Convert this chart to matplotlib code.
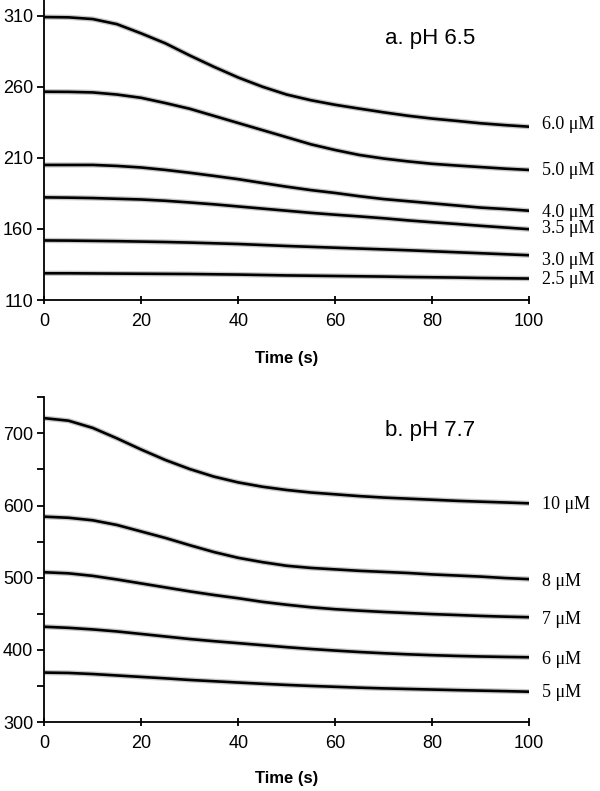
import matplotlib
matplotlib.use("Agg")
import matplotlib.pyplot as plt
from matplotlib.ticker import MultipleLocator

# time grid shared by every trace (s)
time_s = [0, 5, 10, 15, 20, 25, 30, 35, 40, 45, 50,
          55, 60, 65, 70, 75, 80, 85, 90, 95, 100]

# panel a, pH 6.5
a_labels = ["6.0 μM", "5.0 μM", "4.0 μM", "3.5 μM", "3.0 μM", "2.5 μM"]
a_6_0 = [309, 308.8, 307.6, 304, 297.5, 290.5, 282, 274, 266.5, 260, 254.5,
         250.5, 247.3, 244.6, 242, 239.6, 237.6, 236, 234.3, 233, 231.9]
a_5_0 = [256.5, 256.4, 256, 254.5, 252.2, 248.5, 244.5, 239.5, 234.5, 229.5, 224.5,
         219.5, 215.5, 212, 209.5, 207.5, 205.8, 204.6, 203.5, 202.4, 201.5]
a_4_0 = [205, 205, 205, 204.3, 203.2, 201.5, 199.5, 197.3, 195, 192.3, 189.7,
         187.3, 185.3, 183, 181, 179.5, 178, 176.5, 175, 174, 172.8]
a_3_5 = [182.2, 182, 181.7, 181.2, 180.7, 179.8, 178.6, 177.3, 175.8, 174.3, 172.8,
         171.3, 170, 168.8, 167.5, 166, 164.7, 163.5, 162.2, 161, 159.8]
a_3_0 = [151.9, 151.8, 151.6, 151.4, 151.1, 150.8, 150.4, 149.9, 149.4, 148.7, 148,
         147.4, 146.8, 146.2, 145.6, 145, 144.3, 143.6, 142.9, 142.2, 141.5]
a_2_5 = [128.8, 128.8, 128.7, 128.6, 128.5, 128.4, 128.3, 128.1, 127.9, 127.6, 127.3,
         127.1, 126.9, 126.7, 126.5, 126.2, 126, 125.8, 125.5, 125.3, 125.1]
a_label_y = [233.1, 200.9, 171.4, 160.4, 138.1, 124.1]

# panel b, pH 7.7
b_labels = ["10 μM", "8 μM", "7 μM", "6 μM", "5 μM"]
b_10 = [721, 717.5, 707.5, 693, 677.5, 663, 650.5, 640, 632, 626, 621.5,
        618, 615.5, 613, 611, 609.5, 608, 606.5, 605.3, 604.2, 603]
b_8 = [584.5, 583, 579.5, 573, 564, 555, 545, 535.5, 527.5, 521.5, 516.5,
       513.5, 511.5, 509.5, 508, 506.5, 504.5, 503, 501.5, 499.5, 498]
b_7 = [507.5, 506, 502.5, 497.5, 492, 486.5, 481, 476, 471.5, 466.5, 462.5,
       459, 456.3, 454.3, 452.5, 451, 449.5, 448.3, 447, 446, 445.2]
b_6 = [432, 430.5, 428.3, 425.5, 422, 418.5, 415, 412, 409.3, 406.5, 403.7,
       401.2, 399, 397, 395.3, 393.8, 392.6, 391.6, 390.8, 390.2, 389.7]
b_5 = [368.5, 368, 366.5, 364.5, 362.5, 360.5, 358.3, 356.5, 354.7, 353, 351.4,
       350, 348.8, 347.6, 346.6, 345.8, 345, 344.2, 343.5, 342.8, 342]
b_label_y = [600.7, 494.5, 441.4, 386, 340.3]

plt.rcParams['font.family'] = 'Liberation Sans'

fig = plt.figure(figsize=(6, 7.91), dpi=100)
ax_a = fig.add_axes([0.0738, 0.6207, 0.808, 0.3793])
ax_b = fig.add_axes([0.0738, 0.0872, 0.808, 0.4106])


def draw_panel(ax, series, labels, label_y, title, title_y):
    for y, lab, ly in zip(series, labels, label_y):
        # grey halo stands in for the scattered raw points
        ax.plot(time_s, y, color='#9a9a9a', lw=3.8, alpha=0.55, solid_capstyle='butt')
        ax.plot(time_s, y, color='black', lw=1.9, solid_capstyle='butt')
        ax.text(102.7, ly, lab, family='Liberation Serif', fontsize=13,
                va='center', ha='left', clip_on=False)
    ax.set_xlim(0, 100)
    ax.xaxis.set_major_locator(MultipleLocator(20))
    for s in ['top', 'right']:
        ax.spines[s].set_visible(False)
    for s in ['left', 'bottom']:
        ax.spines[s].set_linewidth(1.3)
    ax.tick_params(axis='x', direction='inout', length=6, width=1.3, pad=6, labelsize=13)
    ax.tick_params(axis='y', which='both', direction='out', length=5, width=1.3, pad=3, labelsize=13)
    ax.text(79.6, title_y, title, fontsize=16, ha='center', va='center')
    ax.set_xlabel("Time (s)", fontsize=12, fontweight='bold')


draw_panel(ax_a, [a_6_0, a_5_0, a_4_0, a_3_5, a_3_0, a_2_5], a_labels, a_label_y,
           "a. pH 6.5", 293.6)
ax_a.set_ylim(110, 321)
ax_a.set_yticks([110, 160, 210, 260, 310])
ax_a.xaxis.set_label_coords(0.5, -0.17)

draw_panel(ax_b, [b_10, b_8, b_7, b_6, b_5], b_labels, b_label_y,
           "b. pH 7.7", 704.6)
ax_b.set_ylim(300, 750)
ax_b.yaxis.set_major_locator(MultipleLocator(100))
ax_b.yaxis.set_minor_locator(MultipleLocator(50))
ax_b.xaxis.set_label_coords(0.5, -0.151)

fig.savefig("out.png", dpi=100)
